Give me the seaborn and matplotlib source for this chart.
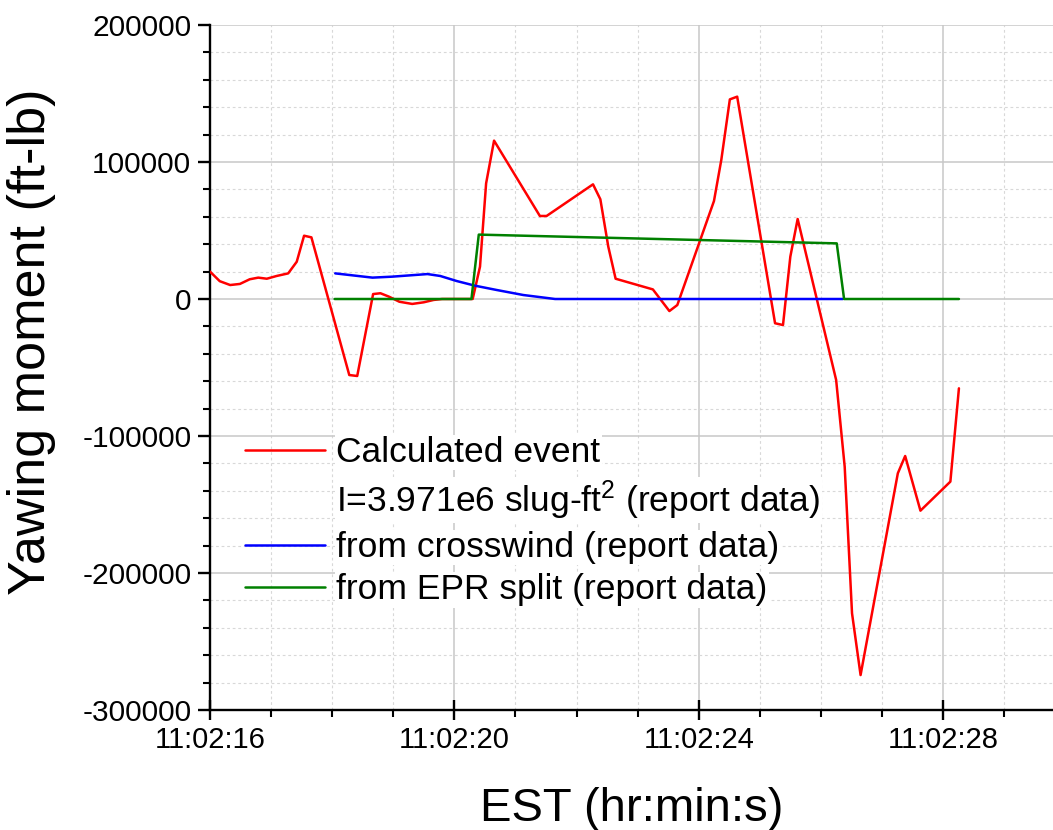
import numpy as np
import pandas as pd
import matplotlib
matplotlib.use("Agg")
import matplotlib.pyplot as plt
import seaborn as sns
from matplotlib.ticker import MultipleLocator, FuncFormatter

# ---------------- data (seconds after 11:02:00, ft-lb) ----------------
calc_t = [16.00, 16.16, 16.33, 16.49, 16.65, 16.79, 16.93, 17.09, 17.28, 17.42,
          17.54, 17.66, 18.28, 18.41, 18.67, 18.79, 18.93, 19.10, 19.31, 19.50,
          19.66, 19.80, 20.30, 20.42, 20.52, 20.65, 21.40, 21.51, 22.27, 22.39,
          22.52, 22.64, 23.25, 23.52, 23.65, 24.25, 24.37, 24.51, 24.63, 25.25,
          25.38, 25.50, 25.62, 26.25, 26.39, 26.51, 26.65, 27.26, 27.38, 27.63,
          28.12, 28.26]
calc_m = [20000, 13000, 10200, 11000, 14400, 15600, 14800, 16800, 18700, 27200,
          46200, 45000, -55500, -56200, 3600, 4200, 1700, -2000, -3600, -2400,
          -700, 0, 0, 23600, 84400, 115600, 60600, 60600, 83700, 72800,
          38200, 14800, 7000, -8800, -4400, 71500, 101500, 145700, 147700, -17700,
          -19000, 30900, 58400, -59100, -122400, -229400, -274500, -127200, -114600, -154500,
          -133300, -65200]

wind_t = [18.05, 18.66, 18.98, 19.56, 19.77, 20.04, 20.34, 20.69, 21.13, 21.65, 26.36]
wind_m = [18700, 15600, 16300, 18200, 16800, 13100, 9700, 6600, 2900, 0, 0]

epr_t = [18.04, 20.28, 20.40, 26.26, 26.38, 28.26]
epr_m = [0, 0, 47000, 40600, 0, 0]

series_names = ["Calculated event", "from crosswind (report data)", "from EPR split (report data)"]
note_label = "I=3.971e6 slug-ft$^{2}$ (report data)"
colors = ["#ff0000", "#0000ff", "#008000"]

x_ticks = [16, 20, 24, 28]
y_ticks = [-300000, -200000, -100000, 0, 100000, 200000]

df = pd.concat([
    pd.DataFrame({"t": calc_t, "M": calc_m, "series": series_names[0]}),
    pd.DataFrame({"t": wind_t, "M": wind_m, "series": series_names[1]}),
    pd.DataFrame({"t": epr_t, "M": epr_m, "series": series_names[2]}),
], ignore_index=True)

# ---------------- style ----------------
sns.set_theme(style="white")
plt.rcParams["font.family"] = ["Liberation Sans", "DejaVu Sans"]
plt.rcParams["mathtext.fontset"] = "custom"
plt.rcParams["mathtext.rm"] = "Liberation Sans"
plt.rcParams["mathtext.it"] = "Liberation Sans:italic"
plt.rcParams["mathtext.default"] = "regular"

fig = plt.figure(figsize=(10.53, 8.30), dpi=100)
ax = fig.add_axes([210 / 1053, 120 / 830, 843 / 1053, 685 / 830])

sns.lineplot(data=df, x="t", y="M", hue="series", hue_order=series_names,
             palette=colors, estimator=None, sort=False, linewidth=1.8,
             legend=False, ax=ax, zorder=3)

ax.set_xlim(16, 29.8)
ax.set_ylim(-300000, 200000)
ax.set_xticks(x_ticks)
ax.set_yticks(y_ticks)
ax.xaxis.set_minor_locator(MultipleLocator(1))
ax.yaxis.set_minor_locator(MultipleLocator(20000))
ax.xaxis.set_major_formatter(FuncFormatter(lambda v, p: "11:02:%02d" % int(round(v))))
ax.yaxis.set_major_formatter(FuncFormatter(lambda v, p: "%d" % int(round(v))))

ax.grid(which="major", color="#c8c8c8", linestyle="-", linewidth=1.1, zorder=0)
ax.grid(which="minor", color="#d8d8d8", linestyle=(0, (2.5, 2.5)), linewidth=0.8, zorder=0)
ax.set_axisbelow(True)

for s in ["top", "right"]:
    ax.spines[s].set_visible(False)
for s in ["left", "bottom"]:
    ax.spines[s].set_color("black")
    ax.spines[s].set_linewidth(1.7)

ax.tick_params(axis="x", which="major", direction="inout", length=15, width=1.7,
               pad=4, labelsize=21, colors="black", bottom=True)
ax.tick_params(axis="y", which="major", direction="out", length=8.5, width=1.7,
               pad=5, labelsize=21.5, colors="black", left=True)
ax.tick_params(which="minor", direction="out", length=5, width=1.5, colors="black",
               bottom=True, left=True)

ax.set_xlabel("EST (hr:min:s)", fontsize=34, labelpad=24, color="black")
ax.set_ylabel("Yawing moment (ft-lb)", fontsize=37.5, color="black")
ax.yaxis.set_label_coords(-0.183, 0.537)

# legend
lines = ax.get_lines()
handles = [lines[0], plt.Line2D([], [], color="none"), lines[1], lines[2]]
labels = [series_names[0], note_label, series_names[1], series_names[2]]
leg = ax.legend(handles, labels, loc="upper left", bbox_to_anchor=(0.0415, 0.40),
                frameon=False, fontsize=25.5, handlelength=2.25, handletextpad=0.33,
                borderpad=0, borderaxespad=0, labelspacing=0.26)
for txt in leg.get_texts():
    txt.set_color("black")
    txt.set_bbox(dict(facecolor="white", edgecolor="none", pad=1))
for ln in leg.get_lines():
    ln.set_linewidth(1.8)

fig.savefig("out.png", dpi=100, facecolor="white")
